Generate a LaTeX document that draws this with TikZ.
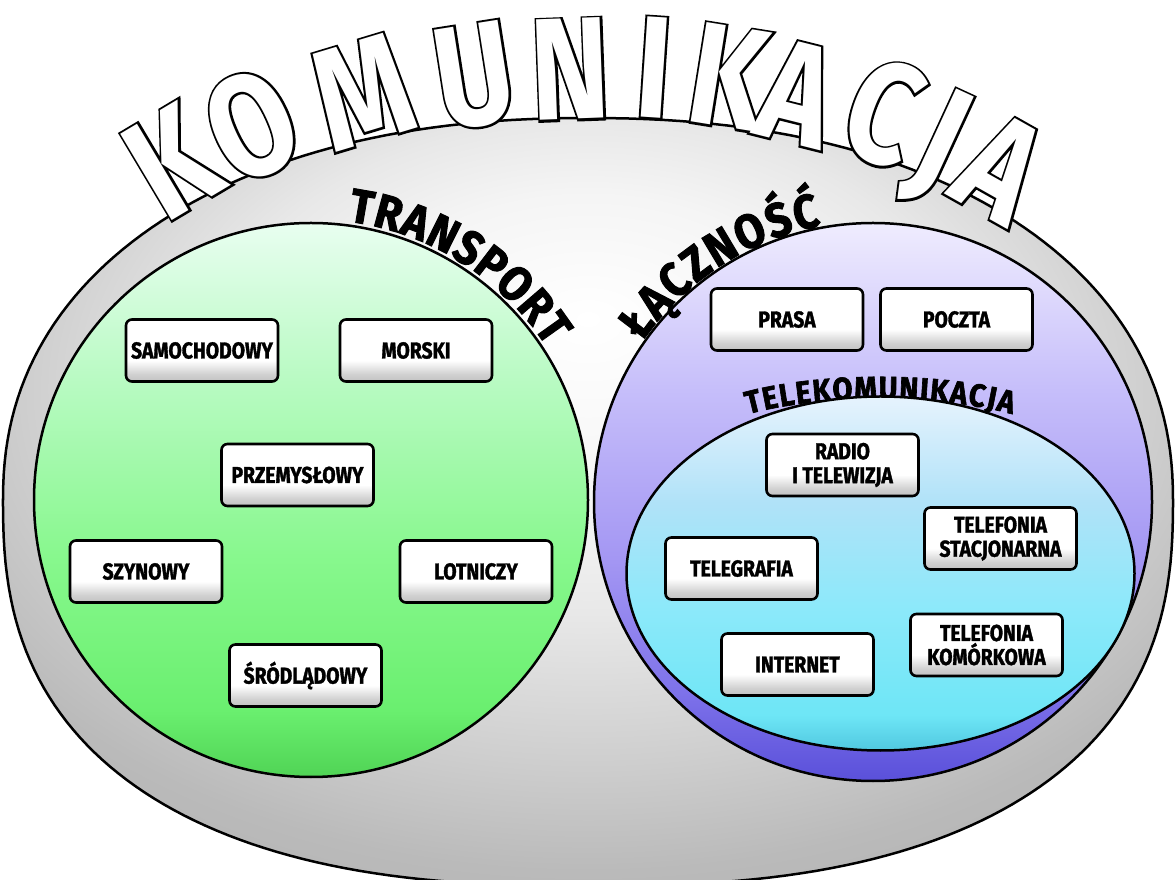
\documentclass[tikz,border=0pt]{standalone}
\usepackage{fontspec}
\usetikzlibrary{decorations.text,shadings}
\newfontfamily\boxfont{Fira Sans}[FakeStretch=0.84,FakeBold=1.5]
\newfontfamily\headfont{Fira Sans}[FakeStretch=0.9,FakeBold=2]
\newfontfamily\komthick{Fira Sans}[FakeStretch=0.82,FakeBold=3]
\newfontfamily\komthin{Fira Sans}[FakeStretch=0.82]

\definecolor{g0}{HTML}{50D455}
\definecolor{g1}{HTML}{6AEF6F}
\definecolor{g2}{HTML}{88F88E}
\definecolor{g3}{HTML}{B6FAC0}
\definecolor{g4}{HTML}{E8FEF0}
\definecolor{p0}{HTML}{5A50DA}
\definecolor{p1}{HTML}{7E72EA}
\definecolor{p2}{HTML}{A497F3}
\definecolor{p3}{HTML}{C6BEFA}
\definecolor{p4}{HTML}{EFECFE}
\definecolor{c0}{HTML}{50C8E0}
\definecolor{c1}{HTML}{6EE6F6}
\definecolor{c2}{HTML}{8CE9FA}
\definecolor{c3}{HTML}{B0E2F8}
\definecolor{c4}{HTML}{E6F3FD}

\pgfdeclareradialshading{greyshade}{\pgfpoint{0bp}{12bp}}{color(0bp)=(white); color(10bp)=(white!96!black); color(16bp)=(black!9); color(24bp)=(black!19); color(30bp)=(black!27); color(40bp)=(black!33); color(60bp)=(black!33)}
\pgfdeclareverticalshading{greenshade}{100bp}{color(0bp)=(g0); color(25bp)=(g0); color(31bp)=(g1); color(45bp)=(g2); color(60bp)=(g3); color(75bp)=(g4); color(100bp)=(g4)}
\pgfdeclareverticalshading{purpleshade}{100bp}{color(0bp)=(p0); color(25bp)=(p0); color(33bp)=(p1); color(45bp)=(p2); color(60bp)=(p3); color(75bp)=(p4); color(100bp)=(p4)}
\pgfdeclareverticalshading{cyanshade}{100bp}{color(0bp)=(c0); color(25bp)=(c0); color(30bp)=(c1); color(45bp)=(c2); color(60bp)=(c3); color(75bp)=(c4); color(100bp)=(c4)}
\pgfdeclareverticalshading{boxshade}{100bp}{color(0bp)=(black!24); color(25bp)=(black!24); color(31bp)=(black!18); color(42bp)=(white); color(75bp)=(white); color(100bp)=(white)}

\tikzset{
  outline/.style={draw=black, line width=2.5pt},
  itembox/.style={draw=black, line width=2.6pt, rounded corners=6pt, shade, shading=boxshade,
    minimum width=152pt, minimum height=62pt, inner sep=0pt, align=center,
    font={\boxfont\bfseries\fontsize{23}{24}\selectfont}},
  komback/.style={anchor=base, inner sep=0pt, text=black,
    font={\komthick\bfseries\fontsize{145}{145}\selectfont}},
  komfront/.style={anchor=base, inner sep=0pt, text=white,
    font={\komthin\bfseries\fontsize{145}{145}\selectfont}},
}
\def\komletters{K/120.8/835,O/114.8/830,M/106.8/822,U/98.9/814,N/92.1/810,I/86.2/813,K/80.9/812,A/75.9/810,C/69.7/817,J/65.2/816,A/60.6/816}

\begin{document}
\begin{tikzpicture}[x=1pt,y=1pt]
\useasboundingbox (0,0) rectangle (1176,879);
\fill[white] (0,0) rectangle (1176,879);

% outer grey shape
\path[outline, shade, shading=greyshade]
  plot[variable=\t, domain=0:180, samples=121]
    ({588+585*cos(\t)*pow(abs(cos(\t))+0.0001,-0.0909)},{379+382*sin(\t)*pow(abs(sin(\t))+0.0001,-0.0909)})
  -- plot[variable=\t, domain=180:360, samples=121]
    ({588+585*cos(\t)*pow(abs(cos(\t))+0.0001,-0.2)},{379+386*sin(\t)*pow(abs(sin(\t))+0.0001,-0.2)})
  -- cycle;

% KOMUNIKACJA
\foreach \ch/\ang/\rad [count=\i] in \komletters{
  \node[komback, rotate=\ang-90] (komb\i) at ({600+(\rad-50)*cos(\ang)},{(\rad-50)*sin(\ang)}) {\ch};
}
\foreach \ch/\ang/\rad [count=\i] in \komletters{
  \node[komfront, rotate=\ang-90] (komf\i) at ({600+(\rad-50)*cos(\ang)},{(\rad-50)*sin(\ang)}) {\ch};
}

% green and purple
\path[outline, shade, shading=greenshade] (311,379) circle[radius=277];
\path[outline, shade, shading=purpleshade] (873,377) circle[radius=279];

% TELEKOMUNIKACJA (partly hidden by the cyan ellipse)
\path[decorate, decoration={text along path, text align=fit to path,
  text={|\headfont\bfseries\fontsize{32}{32}\selectfont|TELEKOMUNIKACJA}}]
  (880,426) ++(134:190 and 54) arc[start angle=134, end angle=46, x radius=190, y radius=54];

\path[outline, shade, shading=cyanshade] (880.5,305.5) ellipse[x radius=254, y radius=177];

% TRANSPORT, ŁĄCZNOŚĆ
\path[decorate, decoration={text along path, text align=fit to path,
  text={|\headfont\bfseries\fontsize{48}{48}\selectfont|TRANSPORT}}]
  (311,379) ++(82.5:281) arc[start angle=82.5, end angle=33, radius=281];
\path[decorate, decoration={text along path, text align=fit to path,
  text={|\headfont\bfseries\fontsize{48}{48}\selectfont|ŁĄCZNOŚĆ}}]
  (873,377) ++(145.3:281) arc[start angle=145.3, end angle=100.6, radius=281];

% boxes
\node[itembox] (samochodowy) at (202,528.5) {SAMOCHODOWY};
\node[itembox] (morski) at (416,528.5) {MORSKI};
\node[itembox] (przemyslowy) at (297.5,404) {PRZEMYSŁOWY};
\node[itembox] (szynowy) at (146,307.5) {SZYNOWY};
\node[itembox] (lotniczy) at (476,307.5) {LOTNICZY};
\node[itembox] (srodladowy) at (305.5,203.5) {ŚRÓDLĄDOWY};
\node[itembox] (prasa) at (787,559.5) {PRASA};
\node[itembox] (poczta) at (956.5,559.5) {POCZTA};
\node[itembox] (radio) at (842.5,414) {RADIO\\I TELEWIZJA};
\node[itembox] (stacjonarna) at (1000.5,340.5) {TELEFONIA\\STACJONARNA};
\node[itembox] (telegrafia) at (741.5,310.5) {TELEGRAFIA};
\node[itembox] (internet) at (797.5,214.5) {INTERNET};
\node[itembox] (komorkowa) at (986.5,234) {TELEFONIA\\KOMÓRKOWA};
\end{tikzpicture}
\end{document}
